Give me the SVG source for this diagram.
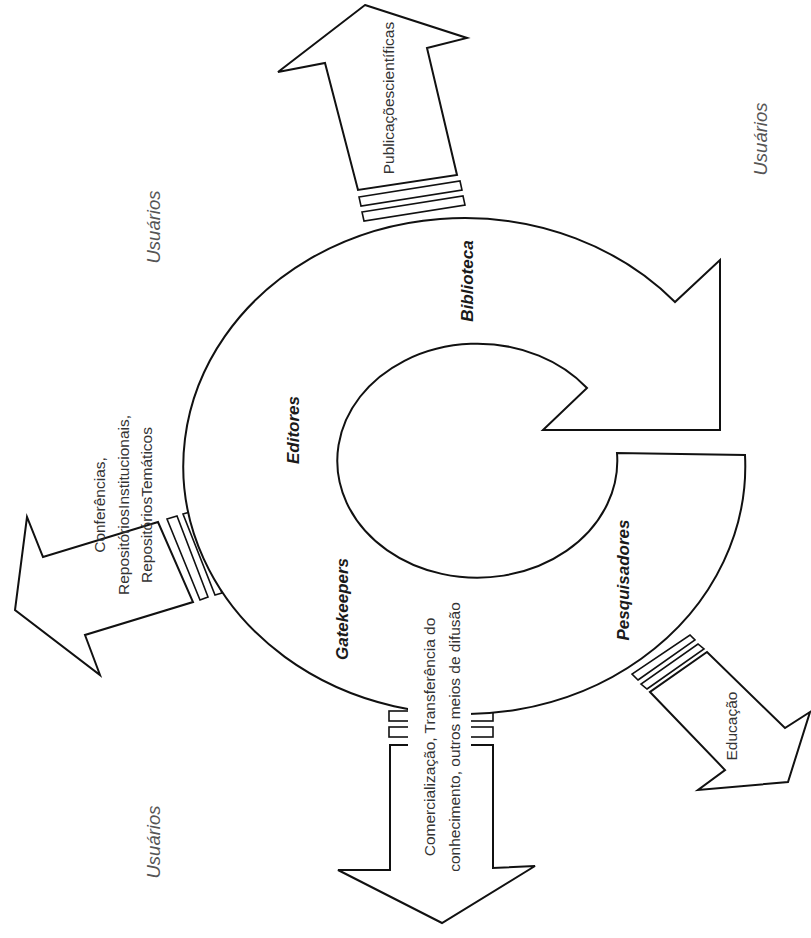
<svg xmlns="http://www.w3.org/2000/svg" width="811" height="938" viewBox="0 0 811 938">
<style>
.ln{fill:#fff;stroke:#111;stroke-width:2;stroke-linejoin:miter}
.st{fill:#fff;stroke:#111;stroke-width:1.6}
.tx{font-family:"Liberation Sans",Arial,sans-serif;font-size:15.5px;fill:#333;text-anchor:middle}
.lb{font-family:"Liberation Sans",Arial,sans-serif;font-size:17px;font-weight:bold;font-style:italic;fill:#1a1a1a;text-anchor:middle}
.us{font-family:"Liberation Sans",Arial,sans-serif;font-size:18.5px;font-style:italic;fill:#555;text-anchor:middle}
</style>
<rect width="811" height="938" fill="#fff"/>
<g id="connectors">
  <g id="arrow-publicacoes">
    <polygon class="ln" points="365,5 467,38 427,48 457,175 358,190 325,63 278,72"/>
    <polygon class="st" points="359,197 460,181 462,190 361,206"/>
    <polygon class="st" points="362,212 463,196 465,205 364,221"/>
  </g>
  <g id="arrow-conferencias">
    <polygon class="ln" points="158,522 43,557 27,517 15,610 100,675 85,635 193,602"/>
    <polygon class="st" points="167,519 177,516 208,597 200,600"/>
    <polygon class="st" points="183,514 190,512 222,593 215,595"/>
  </g>
  <g id="arrow-educacao">
    <polygon class="ln" points="650,692 725,770 698,790 788,782 810,712 785,728 707,652"/>
    <polygon class="st" points="647,689 704,649 698,644 641,684"/>
    <polygon class="st" points="638,680 695,640 690,635 632,674"/>
  </g>
  <g id="arrow-comercializacao">
    <polygon class="ln" points="390,745 493,745 493,868 535,866 442,923 338,870 390,870"/>
    <rect class="st" x="389" y="711" width="104" height="10"/>
    <rect class="st" x="389" y="727" width="104" height="10"/>
  </g>
</g>
<g id="cycle">
  <path class="ln" d="M745,455 A281,248 0 1 1 675,302 L720,260 L720,430 L543,430 L587,388 A140,117 0 1 0 617,453 Z"/>
</g>
<rect id="textbox-comercializacao" x="408" y="600" width="63" height="268" fill="#fff"/>
<g id="labels">
  <g id="usuarios-1"><text class="us" transform="translate(160,227) rotate(-90)">Usuários</text></g>
  <g id="usuarios-2"><text class="us" transform="translate(767,139) rotate(-90)">Usuários</text></g>
  <g id="usuarios-3"><text class="us" transform="translate(160,842) rotate(-90)">Usuários</text></g>
  <g id="editores"><text class="lb" transform="translate(299,430) rotate(-90)">Editores</text></g>
  <g id="gatekeepers"><text class="lb" transform="translate(348,609) rotate(-90)">Gatekeepers</text></g>
  <g id="biblioteca"><text class="lb" transform="translate(473,281) rotate(-90)">Biblioteca</text></g>
  <g id="pesquisadores"><text class="lb" transform="translate(629,580) rotate(-90)">Pesquisadores</text></g>
  <g id="txt-publicacoes"><text class="tx" transform="translate(394,98) rotate(-90)">Publicaçõescientíficas</text></g>
  <g id="txt-conferencias"><text class="tx" transform="translate(105,505) rotate(-90)"><tspan x="0" y="0">Conferências,</tspan><tspan x="0" y="23.5">RepositóriosInstitucionais,</tspan><tspan x="0" y="47">RepositóriosTemáticos</tspan></text></g>
  <g id="txt-comercializacao"><text class="tx" transform="translate(435,737) rotate(-90)"><tspan x="0" y="0">Comercialização, Transferência do</tspan><tspan x="0" y="25">conhecimento, outros meios de difusão</tspan></text></g>
  <g id="txt-educacao"><text class="tx" transform="translate(737,726) rotate(-90)">Educação</text></g>
</g>
</svg>
